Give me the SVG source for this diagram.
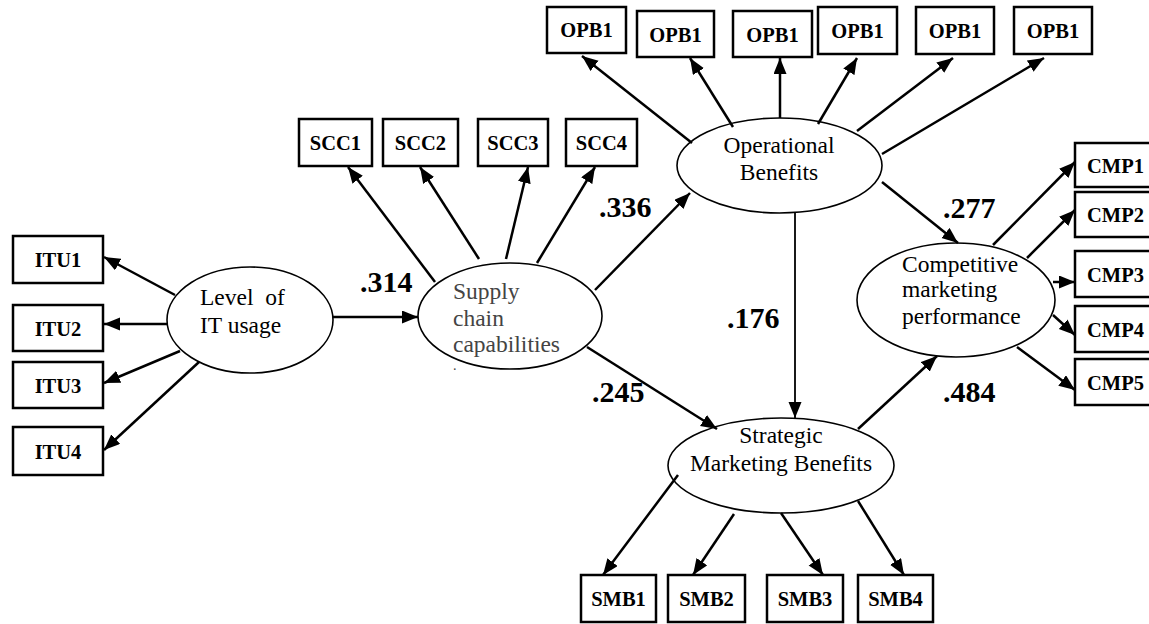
<svg xmlns="http://www.w3.org/2000/svg" width="1149" height="624" viewBox="0 0 1149 624">
<style>
.box{fill:#fff;stroke:#000;stroke-width:2.5}
.ell{fill:#fff;stroke:#000;stroke-width:1.6}
.bt{font-family:"Liberation Serif","Times New Roman",serif;font-weight:bold;font-size:20.5px;text-anchor:middle;fill:#000}
.et{font-family:"Liberation Serif","Times New Roman",serif;font-size:23.5px;fill:#000}
.lbl{font-family:"Liberation Serif","Times New Roman",serif;font-weight:bold;font-size:30px;fill:#000}
#connectors line{stroke:#000;stroke-width:2.5;marker-end:url(#ah)}
</style>
<defs>
<marker id="ah" markerUnits="userSpaceOnUse" markerWidth="17" markerHeight="14" refX="16" refY="6.5" orient="auto">
<path d="M0,0 L16,6.5 L0,13 z" fill="#000"/>
</marker>
</defs>
<rect width="1149" height="624" fill="#fff"/>

<g id="ITU1"><rect class="box" x="13" y="236" width="90" height="47"/><text class="bt" x="58" y="267">ITU1</text></g>
<g id="ITU2"><rect class="box" x="13" y="305" width="90" height="46"/><text class="bt" x="58" y="336">ITU2</text></g>
<g id="ITU3"><rect class="box" x="13" y="362" width="90" height="46"/><text class="bt" x="58" y="393">ITU3</text></g>
<g id="ITU4"><rect class="box" x="13" y="427" width="90" height="48"/><text class="bt" x="58" y="459">ITU4</text></g>

<g id="SCC1"><rect class="box" x="299" y="119" width="73" height="47"/><text class="bt" x="335.5" y="150">SCC1</text></g>
<g id="SCC2"><rect class="box" x="383" y="119" width="75" height="47"/><text class="bt" x="420.5" y="150">SCC2</text></g>
<g id="SCC3"><rect class="box" x="478" y="119" width="70" height="47"/><text class="bt" x="513" y="150">SCC3</text></g>
<g id="SCC4"><rect class="box" x="566" y="119" width="71" height="47"/><text class="bt" x="601.5" y="150">SCC4</text></g>

<g id="OPB1a"><rect class="box" x="547" y="7" width="79" height="46"/><text class="bt" x="586.5" y="37">OPB1</text></g>
<g id="OPB1b"><rect class="box" x="637" y="11" width="77" height="46"/><text class="bt" x="675.5" y="42">OPB1</text></g>
<g id="OPB1c"><rect class="box" x="733" y="11" width="79" height="46"/><text class="bt" x="772.5" y="42">OPB1</text></g>
<g id="OPB1d"><rect class="box" x="818" y="7" width="79" height="47"/><text class="bt" x="857.5" y="38">OPB1</text></g>
<g id="OPB1e"><rect class="box" x="916" y="7" width="78" height="47"/><text class="bt" x="955" y="38">OPB1</text></g>
<g id="OPB1f"><rect class="box" x="1014" y="7" width="78" height="47"/><text class="bt" x="1053" y="38">OPB1</text></g>

<g id="CMP1"><rect class="box" x="1075" y="143" width="90" height="44"/><text class="bt" x="1087" y="173" text-anchor="start" style="text-anchor:start">CMP1</text></g>
<g id="CMP2"><rect class="box" x="1075" y="192" width="90" height="45"/><text class="bt" x="1087" y="222" style="text-anchor:start">CMP2</text></g>
<g id="CMP3"><rect class="box" x="1075" y="251" width="90" height="46"/><text class="bt" x="1087" y="282" style="text-anchor:start">CMP3</text></g>
<g id="CMP4"><rect class="box" x="1075" y="306" width="90" height="46"/><text class="bt" x="1087" y="337" style="text-anchor:start">CMP4</text></g>
<g id="CMP5"><rect class="box" x="1075" y="359" width="90" height="46"/><text class="bt" x="1087" y="390" style="text-anchor:start">CMP5</text></g>

<g id="SMB1"><rect class="box" x="581" y="575" width="75" height="47"/><text class="bt" x="618.5" y="606">SMB1</text></g>
<g id="SMB2"><rect class="box" x="668" y="575" width="77" height="47"/><text class="bt" x="706.5" y="606">SMB2</text></g>
<g id="SMB3"><rect class="box" x="767" y="575" width="76" height="47"/><text class="bt" x="805" y="606">SMB3</text></g>
<g id="SMB4"><rect class="box" x="858" y="575" width="75" height="47"/><text class="bt" x="895.5" y="606">SMB4</text></g>

<g id="LevelIT">
<ellipse class="ell" cx="250" cy="320" rx="83" ry="53"/>
<text class="et" x="200" y="305" xml:space="preserve">Level  of</text>
<text class="et" x="200" y="333">IT usage</text>
</g>
<g id="SupplyChain">
<ellipse class="ell" cx="510" cy="316" rx="92" ry="53"/>
<text class="et" x="453" y="299" fill="#444" style="fill:#444">Supply</text>
<text class="et" x="453" y="326" style="fill:#444">chain</text>
<text class="et" x="453" y="352" style="fill:#444">capabilities</text>
<text class="et" x="453" y="370" style="fill:#444;font-size:14px">.</text>
</g>
<g id="Operational">
<ellipse class="ell" cx="779.5" cy="165.5" rx="102.5" ry="47.5"/>
<text class="et" x="779" y="153" text-anchor="middle">Operational</text>
<text class="et" x="779" y="180" text-anchor="middle">Benefits</text>
</g>
<g id="Competitive">
<ellipse class="ell" cx="956" cy="300" rx="99" ry="57"/>
<text class="et" x="902" y="272">Competitive</text>
<text class="et" x="902" y="297">marketing</text>
<text class="et" x="902" y="324">performance</text>
</g>
<g id="Strategic">
<ellipse class="ell" cx="781" cy="465.5" rx="113" ry="47.5"/>
<text class="et" x="781" y="443" text-anchor="middle">Strategic</text>
<text class="et" x="781" y="471" text-anchor="middle">Marketing Benefits</text>
</g>

<g id="connectors">
<line x1="175" y1="295" x2="104" y2="257"/>
<line x1="167" y1="324" x2="104" y2="324"/>
<line x1="180" y1="351" x2="104" y2="383"/>
<line x1="199" y1="362" x2="104" y2="450"/>
<line x1="333" y1="317" x2="418" y2="317"/>
<line x1="435" y1="282" x2="348" y2="167"/>
<line x1="479" y1="259" x2="420" y2="167"/>
<line x1="506" y1="259" x2="528" y2="167"/>
<line x1="537" y1="263" x2="595" y2="167"/>
<line x1="595" y1="290" x2="690" y2="193"/>
<line x1="587" y1="347" x2="717" y2="429"/>
<line x1="692" y1="143" x2="582" y2="56"/>
<line x1="733" y1="127" x2="690" y2="58"/>
<line x1="780" y1="118" x2="780" y2="58"/>
<line x1="818" y1="124" x2="857" y2="58"/>
<line x1="857" y1="131" x2="953" y2="58"/>
<line x1="882" y1="154" x2="1044" y2="58"/>
<line x1="795" y1="213" x2="795" y2="418" style="stroke-width:1.8"/>
<line x1="882" y1="182" x2="958" y2="243"/>
<line x1="858" y1="429" x2="937" y2="356"/>
<line x1="993" y1="245" x2="1075" y2="162"/>
<line x1="1027" y1="258" x2="1075" y2="210"/>
<line x1="1053" y1="282" x2="1075" y2="282"/>
<line x1="1053" y1="315" x2="1075" y2="335"/>
<line x1="1017" y1="347" x2="1075" y2="390"/>
<line x1="678" y1="475" x2="603" y2="575"/>
<line x1="734" y1="514" x2="693" y2="575"/>
<line x1="781" y1="513" x2="823" y2="575"/>
<line x1="858" y1="501" x2="904" y2="575"/>
</g>

<g id="labels">
<text class="lbl" x="360" y="292">.314</text>
<text class="lbl" x="599" y="217">.336</text>
<text class="lbl" x="592" y="402">.245</text>
<text class="lbl" x="727" y="328">.176</text>
<text class="lbl" x="943" y="218">.277</text>
<text class="lbl" x="943" y="402">.484</text>
</g>
</svg>
